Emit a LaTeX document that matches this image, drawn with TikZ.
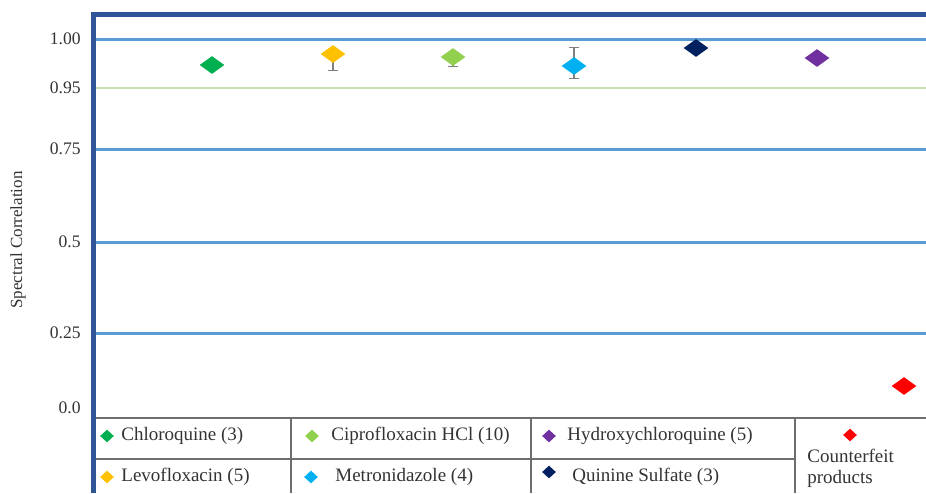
\documentclass[tikz,border=0pt]{standalone}
\usepackage{fontspec}
\setmainfont{Liberation Serif}
\usetikzlibrary{arrows.meta,positioning,shapes.geometric}
\definecolor{axisblue}{HTML}{2F5597}
\definecolor{gridblue}{HTML}{5B9BD5}
\definecolor{limitgreen}{HTML}{C5E0B4}
\definecolor{legendgray}{HTML}{6E6E6E}
\definecolor{chloro}{HTML}{00B050}
\definecolor{cipro}{HTML}{92D050}
\definecolor{hydroxy}{HTML}{7030A0}
\definecolor{levo}{HTML}{FFC000}
\definecolor{metro}{HTML}{00B0F0}
\definecolor{quinine}{HTML}{002060}
\definecolor{fake}{HTML}{FF0000}
\tikzset{
  point/.style={diamond, draw=none, inner sep=0pt, minimum width=12.5pt, minimum height=9pt},
  legend mark/.style={diamond, draw=none, inner sep=0pt, minimum width=7pt, minimum height=6.5pt},
  legend text/.style={anchor=west, inner sep=0pt, text=black!80, font=\fontsize{9.5}{10.5}\selectfont},
  tick label/.style={anchor=east, inner sep=0pt, text=black!80, font=\fontsize{8.8}{10}\selectfont},
  grid line/.style={gridblue, line width=1.5pt},
  axis bar/.style={axisblue, line width=2.5pt},
  legend line/.style={legendgray, line width=.6pt},
  err bar/.style={black!50, line width=.6pt},
}

\begin{document}
\begin{tikzpicture}[x=.5pt,y=-.5pt]
  \useasboundingbox (0,0) rectangle (926,493);

  % grid lines
  \foreach \y in {39,149,242,333}
    \draw[grid line] (96,\y) -- (926,\y);
  \draw[limitgreen, line width=.6pt] (96,88) -- (926,88);

  % axis frame
  \draw[axis bar] (93,12) -- (93,493);
  \draw[axis bar] (91,14) -- (926,14);

  % tick labels
  \foreach \v/\y in {1.00/39,0.95/88,0.75/149,0.5/242,0.25/333,0.0/408}
    \node[tick label] (tick\y) at (81,\y) {\v};
  \node[rotate=90, text=black!80, font=\fontsize{8.5}{10}\selectfont] (ylab) at (18,240)
    {Spectral Correlation};

  % data locations
  \coordinate (pchl) at (212,65);
  \coordinate (plev) at (333,54);
  \coordinate (pcip) at (453,57);
  \coordinate (pmet) at (574,66);
  \coordinate (pqui) at (696,48);
  \coordinate (phyd) at (817,58);
  \coordinate (pfak) at (904,386);

  % error bars
  \coordinate (plev lo) at (333,71);
  \coordinate (pcip lo) at (453,67);
  \coordinate (pmet hi) at (574,47);
  \coordinate (pmet lo) at (574,79);
  \draw[err bar, -{Bar[width=5pt]}] (plev) -- (plev lo);
  \draw[err bar, -{Bar[width=5pt]}] (pcip) -- (pcip lo);
  \draw[err bar, {Bar[width=5pt]}-{Bar[width=5pt]}] (pmet hi) -- (pmet lo);

  % data points
  \node[point, fill=chloro] (chl) at (pchl) {};
  \node[point, fill=levo] (lev) at (plev) {};
  \node[point, fill=cipro] (cip) at (pcip) {};
  \node[point, fill=metro] (met) at (pmet) {};
  \node[point, fill=quinine] (qui) at (pqui) {};
  \node[point, fill=hydroxy] (hyd) at (phyd) {};
  \node[point, fill=fake] (fak) at (pfak) {};

  % legend table
  \draw[legend line] (96,418) -- (926,418);
  \draw[legend line] (96,459) -- (795,459);
  \foreach \x in {291,531,795}
    \draw[legend line] (\x,418) -- (\x,493);

  % legend entries
  \node[legend mark, fill=chloro] (mchl) at (107,436) {};
  \node[legend text] (lchl) at (121,436) {Chloroquine (3)};
  \node[legend mark, fill=cipro] (mcip) at (312,436) {};
  \node[legend text] (lcip) at (331,436) {Ciprofloxacin HCl (10)};
  \node[legend mark, fill=hydroxy] (mhyd) at (549,436) {};
  \node[legend text] (lhyd) at (567,436) {Hydroxychloroquine (5)};
  \node[legend mark, fill=levo] (mlev) at (107,477) {};
  \node[legend text] (llev) at (121,477) {Levofloxacin (5)};
  \node[legend mark, fill=metro] (mmet) at (311,477) {};
  \node[legend text] (lmet) at (335,477) {Metronidazole (4)};
  \node[legend mark, fill=quinine] (mqui) at (549,472) {};
  \node[legend text] (lqui) at (572,477) {Quinine Sulfate (3)};
  \node[legend mark, fill=fake] (mfak) at (850,435) {};
  \node[legend text, align=left] (lfak) at (807,468) {Counterfeit\\products};
\end{tikzpicture}
\end{document}
